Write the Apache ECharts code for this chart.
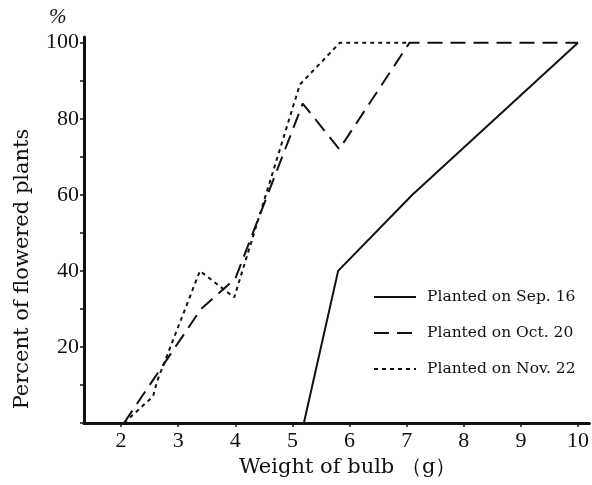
<!DOCTYPE html>
<html>
<head>
<meta charset="utf-8">
<script src="https://cdn.jsdelivr.net/npm/echarts@6/dist/echarts.min.js"></script>
<style>
  html, body { margin: 0; padding: 0; background: #fff; }
  #chart { width: 592px; height: 485px; }
</style>
</head>
<body>
<div id="chart"></div>
<script>
// bulb weight (g) vs percent of flowered plants
const sep16 = [[1.35, 0], [5.2, 0], [5.8, 40], [7.1, 60], [10, 100]];
const oct20 = [[2.05, 0], [3.4, 30], [4.0, 38], [5.18, 84], [5.82, 72], [7.05, 100], [10, 100]];
const nov22 = [[2.05, 0], [2.56, 7], [2.63, 11], [3.38, 40], [3.98, 33], [5.13, 89], [5.83, 100], [7.05, 100]];

const xTicks = [2, 3, 4, 5, 6, 7, 8, 9, 10];
const yTicks = [0, 10, 20, 30, 40, 50, 60, 70, 80, 90, 100];
const yLabels = [20, 40, 60, 80, 100];

const serif = '"Liberation Serif", "DejaVu Serif", serif';
const wideSerif = '"DejaVu Serif", "Liberation Serif", serif';

const chart = echarts.init(document.getElementById('chart'));

chart.setOption({
  backgroundColor: '#fff',
  animation: false,
  title: {
    text: '%',
    left: 44,
    top: 2,
    textStyle: { fontFamily: serif, fontSize: 21, fontStyle: 'italic', fontWeight: 'normal', color: '#111' },
  },
  grid: { left: 84, right: 2, top: 37, bottom: 62 },
  legend: {
    orient: 'vertical',
    left: 368,
    top: 284,
    itemWidth: 42,
    itemHeight: 12,
    itemGap: 20,
    itemStyle: { opacity: 0 },
    textStyle: { fontFamily: wideSerif, fontSize: 15.5, color: '#111', padding: [0, 0, 0, 6] },
    data: ['Planted on Sep. 16', 'Planted on Oct. 20', 'Planted on Nov. 22'],
  },
  xAxis: {
    type: 'value',
    min: 1.35,
    max: 10.2,
    name: 'Weight of bulb （g）',
    nameLocation: 'middle',
    nameGap: 32,
    nameTextStyle: { fontFamily: wideSerif, fontSize: 21, color: '#111', padding: [0, 0, 0, 22] },
    axisLine: { lineStyle: { color: '#111', width: 3 } },
    axisTick: { customValues: xTicks, length: 4, lineStyle: { color: '#111', width: 1.5 } },
    axisLabel: { customValues: xTicks, fontFamily: serif, fontSize: 22, color: '#111', margin: 7 },
    splitLine: { show: false },
  },
  yAxis: {
    type: 'value',
    min: 0,
    max: 101.5,
    name: 'Percent of flowered plants',
    nameLocation: 'middle',
    nameGap: 51,
    nameRotate: 90,
    nameTextStyle: { fontFamily: wideSerif, fontSize: 21, color: '#111', padding: [0, 78, 0, 0] },
    axisLine: { lineStyle: { color: '#111', width: 3 } },
    axisTick: { customValues: yTicks, length: 4, lineStyle: { color: '#111', width: 1.5 } },
    axisLabel: { customValues: yLabels, fontFamily: serif, fontSize: 22, color: '#111', margin: 5 },
    splitLine: { show: false },
  },
  series: [
    {
      name: 'Planted on Sep. 16',
      type: 'line',
      data: sep16,
      symbol: 'none',
      lineStyle: { color: '#111', width: 2, type: 'solid' },
      itemStyle: { color: '#111' },
    },
    {
      name: 'Planted on Oct. 20',
      type: 'line',
      data: oct20,
      symbol: 'none',
      lineStyle: { color: '#111', width: 2, type: [15, 8] },
      itemStyle: { color: '#111' },
    },
    {
      name: 'Planted on Nov. 22',
      type: 'line',
      data: nov22,
      symbol: 'none',
      lineStyle: { color: '#111', width: 2, type: [4, 4] },
      itemStyle: { color: '#111' },
    },
  ],
});
</script>
</body>
</html>
